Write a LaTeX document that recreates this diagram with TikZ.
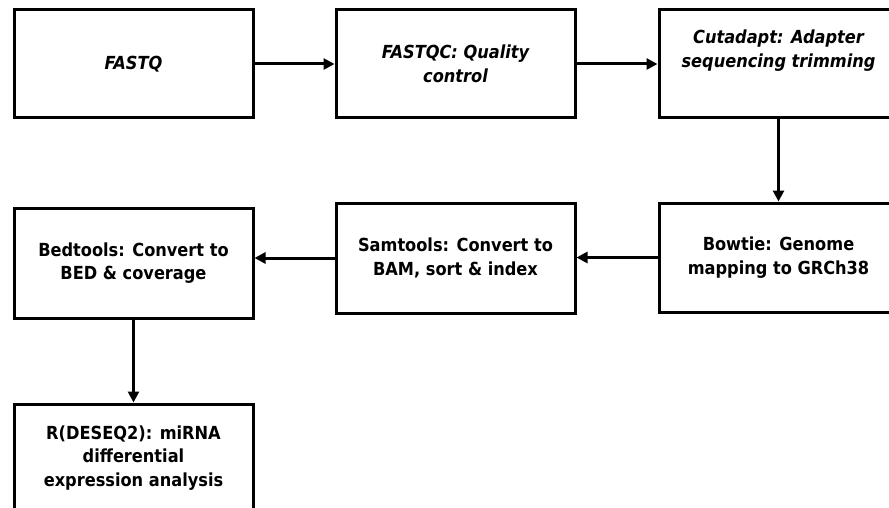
\documentclass[tikz,border=0pt]{standalone}
\usepackage{fontspec}
\setmainfont{DejaVu Sans Condensed}
\usetikzlibrary{arrows.meta}

\tikzset{
  stepbox/.style={draw=black, line width=3pt, rectangle, align=center,
    minimum width=239pt, inner sep=0pt,
    font=\fontsize{18}{23.5}\selectfont\bfseries},
  flow/.style={line width=3pt, -{Triangle[length=11pt,width=11pt]}}
}

\begin{document}
\begin{tikzpicture}[x=1pt,y=-1pt]
  \clip (0,0) rectangle (889,508);
  \useasboundingbox (0,0) rectangle (889,508);

  % top row
  \node[stepbox, minimum height=108pt] (fastq) at (133.5,64) {\itshape FASTQ};
  \node[stepbox, minimum height=108pt] (fastqc) at (455.5,64)
    {\itshape FASTQC: Quality\\\itshape control};
  \node[stepbox, minimum height=108pt] (cutadapt) at (778.5,64)
    {\itshape Cutadapt: Adapter\\\itshape sequencing trimming\\\strut};

  % middle row
  \node[stepbox, minimum height=109pt] (bowtie) at (778.5,257.5)
    {Bowtie: Genome\\mapping to GRCh38};
  \node[stepbox, minimum height=110pt] (samtools) at (455.5,258)
    {Samtools: Convert to\\BAM, sort \& index};
  \node[stepbox, minimum height=110pt] (bedtools) at (133.5,263)
    {Bedtools: Convert to\\BED \& coverage};

  % bottom
  \node[stepbox, minimum height=108pt] (deseq) at (133.5,458)
    {R(DESEQ2): miRNA\\differential\\expression analysis};

  % connectors
  \draw[flow] (fastq.east) -- (fastqc.west);
  \draw[flow] (fastqc.east) -- (fastqc.east -| cutadapt.west);
  \draw[flow] (cutadapt.south) -- (bowtie.north);
  \draw[flow] (bowtie.west) -- (bowtie.west -| samtools.east);
  \draw[flow] (samtools.west) -- (samtools.west -| bedtools.east);
  \draw[flow] (bedtools.south) -- (deseq.north);
\end{tikzpicture}
\end{document}
